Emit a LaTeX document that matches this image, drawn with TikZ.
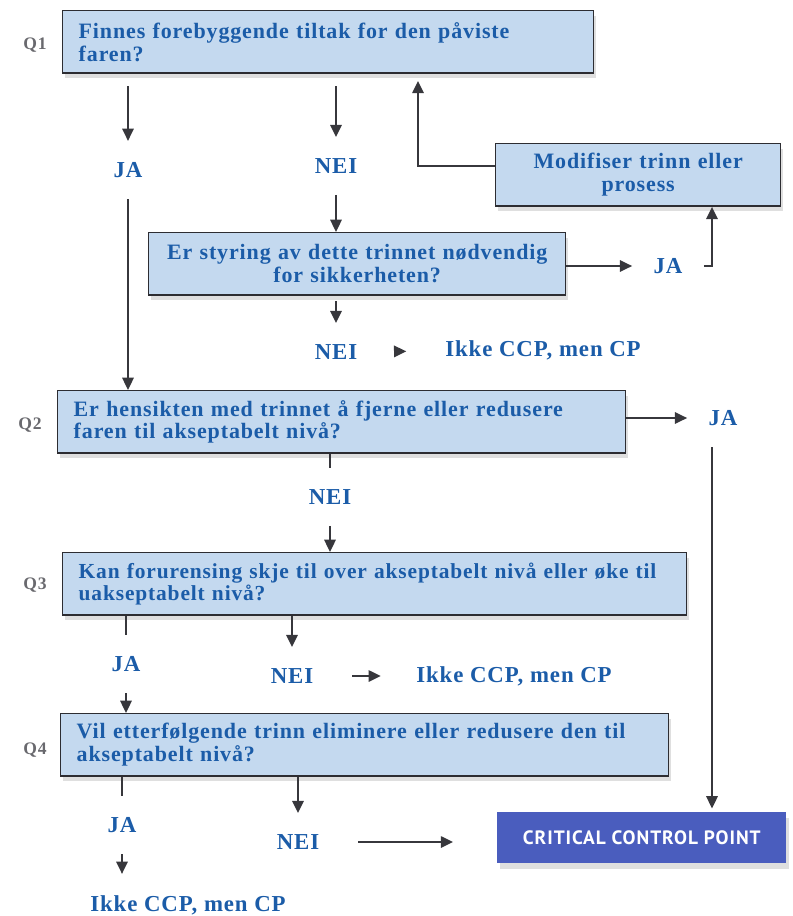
\documentclass[tikz,border=0pt]{standalone}
\usepackage{fontspec}
\setmainfont[LetterSpace=4]{Liberation Serif}
\newfontfamily\ccpfont[LetterSpace=5]{PT Sans}
\usetikzlibrary{arrows.meta, shadows}

\begin{document}
\begin{tikzpicture}[x=0.02cm, y=-0.02cm,
  every node/.style={font=\bfseries\fontsize{13}{15}\selectfont, text=tekstBla},
  boks/.style={draw=rammeGra, fill=boksBla, line width=0.8pt, anchor=north west,
    inner xsep=0.32cm, minimum height=1.25cm, font=\bfseries\fontsize{12.5}{13}\selectfont,
    drop shadow={shadow xshift=1.5pt, shadow yshift=-3pt, opacity=0.25, fill=black!50}},
  ccpboks/.style={fill=ccpBla, anchor=north west, minimum width=5.78cm, minimum height=1.02cm,
    text=white, font=\ccpfont\bfseries\fontsize{11}{12}\selectfont,
    drop shadow={shadow xshift=1.5pt, shadow yshift=-3pt, opacity=0.25, fill=black!50}},
  svar/.style={inner sep=12pt},
  qmerke/.style={text=qGra, font=\bfseries\fontsize{10}{12}\selectfont},
  pil/.style={draw=pilGra, line width=1.1pt, -{Triangle[length=7pt, width=6.5pt]}},
  linje/.style={draw=pilGra, line width=1.1pt}]
  \definecolor{tekstBla}{RGB}{27,92,168}
  \definecolor{boksBla}{RGB}{196,217,239}
  \definecolor{rammeGra}{RGB}{45,45,50}
  \definecolor{ccpBla}{RGB}{74,93,190}
  \definecolor{pilGra}{RGB}{55,55,60}
  \definecolor{qGra}{RGB}{105,105,110}

  \useasboundingbox (0,0) rectangle (792,916);

  % sporsmal
  \node[qmerke] (q1merke) at (35,45) {Q1};
  \node[qmerke] (q2merke) at (30,425) {Q2};
  \node[qmerke] (q3merke) at (35,585) {Q3};
  \node[qmerke] (q4merke) at (35,750) {Q4};

  \node[boks, text width=9.98cm, align=left] (q1) at (62,10) {Finnes forebyggende tiltak for den påviste\\faren?};
  \node[boks, text width=5.06cm, align=center] (modifiser) at (495,143) {Modifiser trinn eller\\prosess};
  \node[boks, text width=7.70cm, align=center] (styring) at (148,232) {Er styring av dette trinnet nødvendig\\for sikkerheten?};
  \node[boks, text width=10.72cm, align=left] (q2) at (57,390) {Er hensikten med trinnet å fjerne eller redusere\\faren til akseptabelt nivå?};
  \node[boks, text width=11.84cm, align=left, font=\bfseries\fontsize{12.2}{13}\selectfont] (q3) at (62,552) {Kan forurensing skje til over akseptabelt nivå eller øke til\\uakseptabelt nivå?};
  \node[boks, text width=11.52cm, align=left] (q4) at (60,713) {Vil etterfølgende trinn eliminere eller redusere den til\\akseptabelt nivå?};
  \node[ccpboks] (ccp) at (497,812) {CRITICAL CONTROL POINT};

  % svar
  \node[svar] (ja1) at (128,170) {JA};
  \node[svar] (nei1) at (336,166) {NEI};
  \node[svar] (ja2) at (668,266) {JA};
  \node[svar] (nei2) at (336,352) {NEI};
  \node[svar] (ikke1) at (543,350) {Ikke CCP, men CP};
  \node[svar] (ja3) at (723,418) {JA};
  \node[svar] (nei3) at (330,497) {NEI};
  \node[svar] (ja4) at (126,664) {JA};
  \node[svar] (nei4) at (292,676) {NEI};
  \node[svar] (ikke2) at (514,676) {Ikke CCP, men CP};
  \node[svar] (ja5) at (122,825) {JA};
  \node[svar] (nei5) at (298,842) {NEI};
  \node[svar] (ikke3) at (188,905) {Ikke CCP, men CP};

  \coordinate (kol) at (712,0);
  \coordinate (knekk) at (418,166);

  \draw[pil, shorten <=7pt] (q1.south -| ja1) -- (ja1);
  \draw[pil, shorten <=7pt] (q1.south -| nei1) -- (nei1);
  \draw[pil] (ja1) -- (ja1 |- q2.north);
  \draw[pil] (nei1) -- (nei1 |- styring.north);
  \draw[pil] (styring.east |- ja2) -- (ja2);
  \draw[pil] (ja2.east) -- (kol |- ja2) -- (kol |- modifiser.south);
  \draw[pil, shorten >=4pt] (modifiser.west |- knekk) -- (knekk) -- (knekk |- q1.south);
  \draw[pil, shorten <=3pt] (styring.south -| nei2) -- (nei2);
  \draw[pil, shorten <=11pt, shorten >=10pt] (nei2) -- (ikke1);
  \draw[pil] (q2.east |- ja3) -- (ja3);
  \draw[pil, shorten >=2pt] (ja3.south -| kol) -- (kol |- ccp.north);
  \draw[linje] (q2.south -| nei3) -- (nei3);
  \draw[pil] (nei3) -- (nei3 |- q3.north);
  \draw[linje] (q3.south -| ja4) -- (ja4);
  \draw[pil] (ja4) -- (ja4 |- q4.north);
  \draw[pil] (q3.south -| nei4) -- (nei4);
  \draw[pil, shorten <=10pt, shorten >=8pt] (nei4) -- (ikke2);
  \draw[linje] (q4.south -| ja5) -- (ja5);
  \draw[pil] (ja5) -- (ja5 |- ikke3.north);
  \draw[pil] (q4.south -| nei5) -- (nei5);
  \draw[pil, shorten <=10pt, shorten >=25pt] (nei5) -- (nei5 -| ccp.west);
\end{tikzpicture}
\end{document}
